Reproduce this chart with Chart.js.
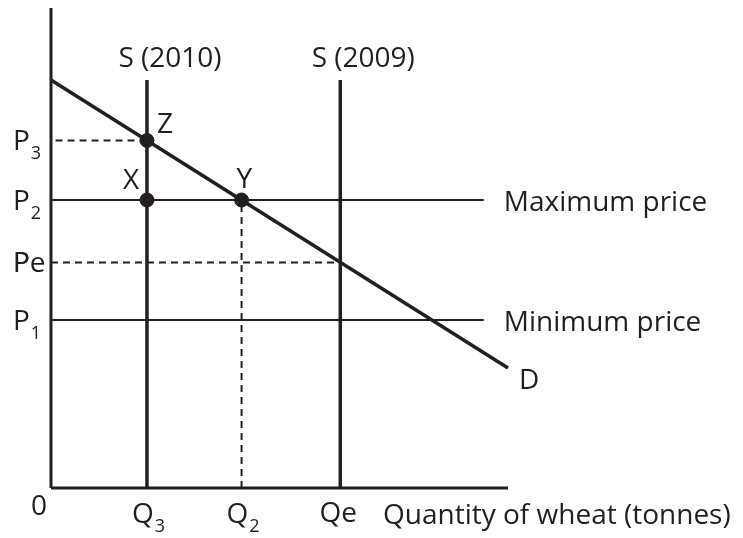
<!DOCTYPE html>
<html>
<head>
<meta charset="utf-8">
<script src="https://cdn.jsdelivr.net/npm/chart.js@4.4.1/dist/chart.umd.min.js"></script>
<style>
  html, body { margin: 0; padding: 0; background: #fff; }
  #wrap { width: 743px; height: 538px; }
</style>
</head>
<body>
<div id="wrap"><canvas id="chart" width="743" height="538"></canvas></div>
<script>
// --- diagram values (quantity on x, price on y, both 0..100) ---
const qLabels = ['Q3', 'Q2', 'Qe'];
const qValues = [21, 41.7, 63.3];
const pLabels = ['P3', 'P2', 'Pe', 'P1'];
const pValues = [72.4, 60, 47, 35];
const demandQ = [0, 100];
const demandP = [85, 25];
const supplyLabels = ['S (2010)', 'S (2009)'];
const supplyQ = [21, 63.3];
const supplyTop = 85;
const controlLabels = ['Maximum price', 'Minimum price'];
const controlP = [60, 35];
const controlEnd = 94.7;
const pointLabels = ['Z', 'X', 'Y'];
const pointQ = [21, 21, 41.7];
const pointP = [72.4, 60, 60];

const INK = '#231f20';
const FONT = '"Open Sans", "Noto Sans", sans-serif';

function seg(x1, y1, x2, y2, width, dash) {
    return {
        data: [{ x: x1, y: y1 }, { x: x2, y: y2 }],
        showLine: true,
        borderColor: INK,
        borderWidth: width,
        borderDash: dash || [],
        pointRadius: 0,
        clip: false
    };
}

const datasets = [
    seg(0, 0, 0, 100, 3),            // price axis
    seg(0, 0, 100, 0, 3),            // quantity axis
    seg(supplyQ[0], 0, supplyQ[0], supplyTop, 3.5),
    seg(supplyQ[1], 0, supplyQ[1], supplyTop, 3.5),
    seg(0, controlP[0], controlEnd, controlP[0], 2),
    seg(0, controlP[1], controlEnd, controlP[1], 2),
    seg(1, pValues[0], qValues[0], pValues[0], 2, [7, 5]),
    seg(0, pValues[2], qValues[2], pValues[2], 2, [7, 5]),
    seg(qValues[1], 0, qValues[1], pValues[1], 2, [7, 5]),
    seg(demandQ[0], demandP[0], demandQ[1], demandP[1], 3.5),
    {
        data: pointQ.map((q, i) => ({ x: q, y: pointP[i] })),
        showLine: false,
        pointRadius: 7,
        pointBackgroundColor: INK,
        pointBorderColor: INK,
        clip: false
    }
];

function label(ctx, text, x, y, sub, size) {
    ctx.font = (size || 28) + 'px ' + FONT;
    ctx.fillText(text, x, y);
    if (sub) {
        const w = ctx.measureText(text).width;
        ctx.font = '18px ' + FONT;
        ctx.fillText(sub, x + w + 1, y + 9);
    }
}

const textPlugin = {
    id: 'diagramText',
    afterDatasetsDraw(chart) {
        const ctx = chart.ctx;
        const xs = chart.scales.x, ys = chart.scales.y;
        const x0 = xs.getPixelForValue(0), y0 = ys.getPixelForValue(0);
        ctx.save();
        ctx.fillStyle = INK;
        ctx.textBaseline = 'alphabetic';

        // price ticks
        ctx.textAlign = 'left';
        pLabels.forEach((l, i) => {
            const y = ys.getPixelForValue(pValues[i]) + 10;
            label(ctx, l.charAt(0), x0 - 38, y, l.slice(1) === 'e' ? '' : l.slice(1));
            if (l === 'Pe') label(ctx, 'Pe', x0 - 38, y);
        });

        // quantity ticks
        qLabels.forEach((l, i) => {
            const x = xs.getPixelForValue(qValues[i]);
            if (l === 'Qe') {
                ctx.textAlign = 'center';
                label(ctx, 'Qe', x - 2, y0 + 34);
            } else {
                ctx.textAlign = 'left';
                label(ctx, 'Q', x - 15, y0 + 35, l.slice(1));
            }
        });
        ctx.textAlign = 'center';
        label(ctx, '0', x0 - 12, y0 + 27);
        ctx.textAlign = 'left';
        label(ctx, 'Quantity of wheat (tonnes)', 383, y0 + 36);

        // supply labels
        ctx.textAlign = 'center';
        supplyLabels.forEach((l, i) => {
            label(ctx, l, xs.getPixelForValue(supplyQ[i]) + 23, ys.getPixelForValue(supplyTop) - 13);
        });

        // control price labels
        ctx.textAlign = 'left';
        controlLabels.forEach((l, i) => {
            label(ctx, l, xs.getPixelForValue(controlEnd) + 20, ys.getPixelForValue(controlP[i]) + 11);
        });

        // demand label
        label(ctx, 'D', xs.getPixelForValue(demandQ[1]) + 11, ys.getPixelForValue(demandP[1]) + 21);

        // point labels
        const offs = [[10, -7], [-24, -11], [-5, -12]];
        pointLabels.forEach((l, i) => {
            label(ctx, l, xs.getPixelForValue(pointQ[i]) + offs[i][0], ys.getPixelForValue(pointP[i]) + offs[i][1]);
        });
        ctx.restore();
    }
};

new Chart(document.getElementById('chart'), {
    type: 'scatter',
    data: { datasets: datasets },
    options: {
        responsive: false,
        animation: false,
        events: [],
        layout: { padding: { left: 51, top: 7, right: 235, bottom: 50 } },
        scales: {
            x: { type: 'linear', min: 0, max: 100, display: false },
            y: { type: 'linear', min: 0, max: 100, display: false }
        },
        plugins: { legend: { display: false }, tooltip: { enabled: false } }
    },
    plugins: [textPlugin]
});
</script>
</body>
</html>
